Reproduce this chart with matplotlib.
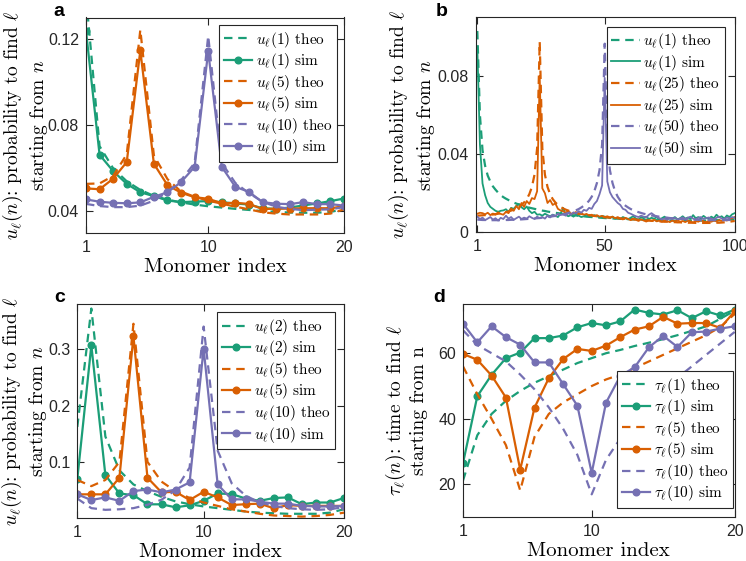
import matplotlib
matplotlib.use("Agg")
import matplotlib.pyplot as plt
import numpy as np

plt.rcParams['font.family'] = ['Liberation Sans', 'DejaVu Sans']
plt.rcParams['mathtext.fontset'] = 'cm'

GREEN = '#1b9e77'
ORANGE = '#d95f02'
PURPLE = '#7570b3'

# ---------------- panel a ----------------
n20 = list(range(1, 21))
a_u1_theo = [0.140, 0.0703, 0.0600, 0.0540, 0.0500, 0.0472, 0.0455, 0.0442, 0.0432, 0.0424,
             0.0418, 0.0412, 0.0407, 0.0402, 0.0398, 0.0395, 0.0394, 0.0394, 0.0398, 0.0410]
a_u1_sim = [0.1238, 0.0663, 0.0587, 0.0528, 0.0489, 0.0471, 0.0451, 0.0443, 0.0446, 0.0448,
            0.0443, 0.0437, 0.0432, 0.0415, 0.0412, 0.0418, 0.0428, 0.0437, 0.0448, 0.0460]
a_u5_theo = [0.0528, 0.0530, 0.0565, 0.0665, 0.1243, 0.0660, 0.0550, 0.0492, 0.0468, 0.0450,
             0.0436, 0.0422, 0.0410, 0.0396, 0.0390, 0.0386, 0.0386, 0.0386, 0.0390, 0.0410]
a_u5_sim = [0.0507, 0.0503, 0.0552, 0.0629, 0.1147, 0.0621, 0.0522, 0.0487, 0.0466, 0.0459,
            0.0438, 0.0440, 0.0435, 0.0411, 0.0413, 0.0413, 0.0415, 0.0415, 0.0415, 0.0424]
a_u10_theo = [0.0435, 0.0425, 0.0420, 0.0420, 0.0427, 0.0450, 0.0490, 0.0545, 0.0625, 0.1215,
              0.0625, 0.0532, 0.0485, 0.0445, 0.0422, 0.0412, 0.0406, 0.0408, 0.0410, 0.0420]
a_u10_sim = [0.0456, 0.0445, 0.0440, 0.0438, 0.0442, 0.0468, 0.0489, 0.0536, 0.0607, 0.1143,
             0.0607, 0.0514, 0.0491, 0.0443, 0.0436, 0.0434, 0.0443, 0.0434, 0.0434, 0.0427]

# ---------------- panel b ----------------
n100 = list(range(1, 101))
b_u1_theo = [0.103, 0.060, 0.042, 0.034, 0.029, 0.026, 0.0235, 0.0218, 0.0203, 0.0190,
             0.0180, 0.0172, 0.0165, 0.0158, 0.0152, 0.0147, 0.0142, 0.0138, 0.0134, 0.0130,
             0.0126, 0.0123, 0.0120, 0.0117, 0.0114, 0.0111, 0.0109, 0.0106, 0.0104, 0.0102,
             0.0100, 0.0098, 0.0096, 0.0094, 0.0092, 0.0090, 0.0089, 0.0087, 0.0086, 0.0084,
             0.0083, 0.0082, 0.0080, 0.0079, 0.0078, 0.0077, 0.0076, 0.0075, 0.0074, 0.0073,
             0.0072, 0.0072, 0.0071, 0.0070, 0.0070, 0.0069, 0.0069, 0.0068, 0.0068, 0.0067,
             0.0066, 0.0066, 0.0065, 0.0065, 0.0064, 0.0064, 0.0063, 0.0063, 0.0062, 0.0062,
             0.0062, 0.0061, 0.0061, 0.0061, 0.0061, 0.0060, 0.0060, 0.0060, 0.0060, 0.0060,
             0.0060, 0.0060, 0.0060, 0.0060, 0.0060, 0.0060, 0.0060, 0.0060, 0.0060, 0.0060,
             0.0061, 0.0061, 0.0062, 0.0062, 0.0063, 0.0063, 0.0064, 0.0065, 0.0065, 0.0066]
b_u1_sim = [0.095, 0.045, 0.025, 0.019, 0.015, 0.013, 0.012, 0.011, 0.0105, 0.011,
            0.0112, 0.0118, 0.0105, 0.0125, 0.0120, 0.0135, 0.0145, 0.0128, 0.0118, 0.0132,
            0.0110, 0.0098, 0.0105, 0.0090, 0.0092, 0.0085, 0.0095, 0.0088, 0.0082, 0.0090,
            0.0085, 0.0078, 0.0095, 0.0125, 0.0090, 0.0082, 0.0088, 0.0080, 0.0092, 0.0085,
            0.0078, 0.0082, 0.0090, 0.0085, 0.0080, 0.0088, 0.0082, 0.0078, 0.0084, 0.0080,
            0.0076, 0.0072, 0.0080, 0.0070, 0.0074, 0.0068, 0.0078, 0.0072, 0.0066, 0.0075,
            0.0082, 0.0070, 0.0065, 0.0078, 0.0072, 0.0080, 0.0068, 0.0074, 0.0070, 0.0077,
            0.0066, 0.0072, 0.0080, 0.0068, 0.0074, 0.0070, 0.0078, 0.0066, 0.0072, 0.0082,
            0.0070, 0.0076, 0.0068, 0.0088, 0.0072, 0.0078, 0.0070, 0.0084, 0.0074, 0.0068,
            0.0080, 0.0072, 0.0090, 0.0076, 0.0082, 0.0070, 0.0086, 0.0078, 0.0092, 0.0098]
b_u25_theo = [0.0085, 0.0086, 0.0087, 0.0088, 0.0089, 0.0090, 0.0091, 0.0093, 0.0095, 0.0097,
              0.0100, 0.0103, 0.0107, 0.0111, 0.0116, 0.0122, 0.0130, 0.0140, 0.0153, 0.0170,
              0.0195, 0.0232, 0.0295, 0.0430, 0.0975, 0.0430, 0.0295, 0.0232, 0.0195, 0.0170,
              0.0153, 0.0140, 0.0130, 0.0122, 0.0116, 0.0111, 0.0107, 0.0103, 0.0100, 0.0097,
              0.0094, 0.0092, 0.0090, 0.0088, 0.0086, 0.0084, 0.0082, 0.0080, 0.0078, 0.0077,
              0.0076, 0.0075, 0.0074, 0.0073, 0.0072, 0.0071, 0.0070, 0.0069, 0.0068, 0.0067,
              0.0066, 0.0065, 0.0064, 0.0063, 0.0062, 0.0061, 0.0060, 0.0059, 0.0058, 0.0057,
              0.0056, 0.0055, 0.0054, 0.0054, 0.0053, 0.0052, 0.0052, 0.0051, 0.0051, 0.0050,
              0.0050, 0.0049, 0.0049, 0.0049, 0.0048, 0.0048, 0.0048, 0.0048, 0.0048, 0.0048,
              0.0048, 0.0048, 0.0049, 0.0049, 0.0050, 0.0051, 0.0052, 0.0054, 0.0056, 0.0058]
b_u25_sim = [0.0095, 0.0100, 0.0098, 0.0092, 0.0100, 0.0088, 0.0096, 0.0090, 0.0102, 0.0094,
             0.0090, 0.0105, 0.0098, 0.0122, 0.0110, 0.0135, 0.0118, 0.0150, 0.0130, 0.0160,
             0.0145, 0.0175, 0.0170, 0.0210, 0.0800, 0.0225, 0.0200, 0.0150, 0.0165, 0.0140,
             0.0148, 0.0120, 0.0112, 0.0108, 0.0100, 0.0110, 0.0095, 0.0098, 0.0102, 0.0092,
             0.0098, 0.0090, 0.0094, 0.0086, 0.0090, 0.0082, 0.0088, 0.0080, 0.0084, 0.0078,
             0.0082, 0.0076, 0.0080, 0.0072, 0.0078, 0.0070, 0.0066, 0.0074, 0.0068, 0.0062,
             0.0070, 0.0064, 0.0058, 0.0066, 0.0060, 0.0055, 0.0062, 0.0058, 0.0064, 0.0056,
             0.0060, 0.0054, 0.0062, 0.0058, 0.0052, 0.0060, 0.0056, 0.0062, 0.0054, 0.0058,
             0.0052, 0.0060, 0.0056, 0.0050, 0.0058, 0.0054, 0.0062, 0.0056, 0.0052, 0.0058,
             0.0054, 0.0060, 0.0056, 0.0062, 0.0058, 0.0064, 0.0060, 0.0068, 0.0072, 0.0078]
b_u50_theo = [0.0065, 0.0064, 0.0063, 0.0063, 0.0062, 0.0062, 0.0062, 0.0062, 0.0062, 0.0062,
              0.0062, 0.0063, 0.0063, 0.0064, 0.0064, 0.0065, 0.0066, 0.0066, 0.0067, 0.0068,
              0.0069, 0.0070, 0.0071, 0.0072, 0.0073, 0.0075, 0.0076, 0.0078, 0.0080, 0.0082,
              0.0084, 0.0086, 0.0089, 0.0092, 0.0095, 0.0099, 0.0103, 0.0108, 0.0113, 0.0119,
              0.0127, 0.0136, 0.0147, 0.0162, 0.0182, 0.0210, 0.0252, 0.0318, 0.0450, 0.0965,
              0.0450, 0.0318, 0.0252, 0.0210, 0.0182, 0.0162, 0.0147, 0.0136, 0.0127, 0.0119,
              0.0113, 0.0108, 0.0103, 0.0099, 0.0095, 0.0092, 0.0089, 0.0086, 0.0084, 0.0082,
              0.0080, 0.0078, 0.0076, 0.0075, 0.0073, 0.0072, 0.0071, 0.0070, 0.0069, 0.0068,
              0.0067, 0.0066, 0.0066, 0.0065, 0.0064, 0.0064, 0.0063, 0.0063, 0.0062, 0.0062,
              0.0062, 0.0062, 0.0062, 0.0062, 0.0062, 0.0062, 0.0063, 0.0063, 0.0064, 0.0065]
b_u50_sim = [0.0080, 0.0068, 0.0075, 0.0062, 0.0070, 0.0078, 0.0065, 0.0072, 0.0060, 0.0074,
             0.0068, 0.0085, 0.0070, 0.0078, 0.0064, 0.0072, 0.0080, 0.0068, 0.0075, 0.0070,
             0.0082, 0.0074, 0.0068, 0.0080, 0.0072, 0.0078, 0.0070, 0.0085, 0.0076, 0.0090,
             0.0082, 0.0095, 0.0088, 0.0092, 0.0085, 0.0098, 0.0090, 0.0102, 0.0096, 0.0108,
             0.0100, 0.0115, 0.0110, 0.0125, 0.0120, 0.0145, 0.0160, 0.0195, 0.0240, 0.0790,
             0.0260, 0.0205, 0.0180, 0.0165, 0.0150, 0.0140, 0.0120, 0.0115, 0.0100, 0.0095,
             0.0088, 0.0082, 0.0078, 0.0085, 0.0080, 0.0076, 0.0090, 0.0098, 0.0088, 0.0080,
             0.0072, 0.0066, 0.0070, 0.0064, 0.0072, 0.0068, 0.0074, 0.0066, 0.0070, 0.0076,
             0.0068, 0.0074, 0.0080, 0.0070, 0.0066, 0.0074, 0.0078, 0.0068, 0.0072, 0.0076,
             0.0070, 0.0066, 0.0074, 0.0080, 0.0070, 0.0068, 0.0076, 0.0072, 0.0078, 0.0074]

# ---------------- panel c ----------------
c_u2_theo = [0.162, 0.372, 0.145, 0.085, 0.060, 0.048, 0.038, 0.030, 0.025, 0.021,
             0.018, 0.015, 0.012, 0.010, 0.009, 0.008, 0.008, 0.008, 0.010, 0.016]
c_u2_sim = [0.0695, 0.3067, 0.0766, 0.044, 0.041, 0.0248, 0.0248, 0.0195, 0.023, 0.031,
            0.044, 0.043, 0.035, 0.031, 0.036, 0.037, 0.025, 0.028, 0.028, 0.036]
c_u5_theo = [0.068, 0.057, 0.068, 0.100, 0.345, 0.100, 0.065, 0.048, 0.036, 0.028,
             0.022, 0.016, 0.012, 0.008, 0.005, 0.004, 0.003, 0.004, 0.006, 0.010]
c_u5_sim = [0.0425, 0.0425, 0.0425, 0.072, 0.3226, 0.072, 0.046, 0.047, 0.0324, 0.047,
            0.037, 0.0235, 0.025, 0.026, 0.0177, 0.0235, 0.022, 0.022, 0.022, 0.022]
c_u10_theo = [0.035, 0.018, 0.015, 0.016, 0.018, 0.024, 0.033, 0.050, 0.090, 0.340,
              0.120, 0.062, 0.040, 0.028, 0.022, 0.018, 0.016, 0.015, 0.016, 0.020]
c_u10_sim = [0.0425, 0.0324, 0.037, 0.031, 0.0483, 0.051, 0.046, 0.051, 0.0637, 0.301,
             0.060, 0.0336, 0.0336, 0.0295, 0.026, 0.026, 0.022, 0.021, 0.021, 0.022]

# ---------------- panel d ----------------
d_t1_theo = [21.2, 35.0, 41.5, 45.5, 48.5, 51.0, 53.0, 55.0, 57.0, 58.5,
             60.0, 61.0, 62.2, 63.2, 64.3, 65.5, 66.8, 68.2, 70.5, 73.0]
d_t1_sim = [26.5, 46.9, 53.4, 58.5, 60.2, 64.6, 64.6, 65.4, 67.9, 69.2,
            68.5, 69.7, 73.3, 72.3, 71.8, 73.1, 70.7, 72.8, 71.5, 73.3]
d_t5_theo = [56.0, 47.5, 40.0, 32.0, 18.2, 34.5, 41.5, 45.0, 47.5, 50.0,
             52.0, 53.5, 55.5, 57.5, 59.5, 61.5, 63.5, 65.5, 68.0, 72.0]
d_t5_sim = [59.8, 58.0, 53.2, 46.5, 24.5, 43.4, 52.4, 58.2, 61.3, 60.7,
            62.3, 64.9, 67.2, 68.2, 71.1, 69.0, 69.2, 69.2, 67.7, 72.8]
d_t10_theo = [67.0, 62.5, 60.0, 57.5, 53.5, 49.0, 43.5, 37.0, 29.0, 17.0,
              27.5, 34.0, 39.5, 44.0, 48.5, 52.5, 56.0, 59.5, 63.0, 66.5]
d_t10_sim = [69.0, 63.3, 68.2, 64.9, 62.6, 57.2, 57.2, 50.6, 44.0, 23.5,
             44.9, 53.1, 55.7, 61.8, 65.3, 61.9, 66.4, 66.6, 67.5, 68.2]

W, H = 746, 561
fig = plt.figure(figsize=(W / 100, H / 100), dpi=100)
SERIF = ['cmr10', 'DejaVu Serif']


def make_ax(l, t, r, b):
    return fig.add_axes([l / W, 1 - b / H, (r - l) / W, (b - t) / H])


axA = make_ax(86, 17.5, 344, 233)
axB = make_ax(475.5, 17.3, 734.7, 232.3)
axC = make_ax(77.3, 304, 344, 518.3)
axD = make_ax(463, 304, 734.7, 517.3)

DASH = (0, (3.8, 2.6))
LW = 1.6
MS = 4.8


def lab(sym, k, kind):
    return r'$%s_\ell(%s)$ %s' % (sym, k, kind)


def style(ax, xlim, xticks, ylim, yticks, yticklabels, ylabel, label_cx, letter, letter_xy):
    ax.set_xlim(*xlim)
    ax.set_ylim(*ylim)
    ax.set_xticks(xticks)
    ax.set_xticklabels([str(x) for x in xticks])
    ax.set_yticks(yticks)
    ax.set_yticklabels(yticklabels)
    ax.tick_params(direction='in', length=5, width=0.8, labelsize=11.5,
                   top=True, right=True, colors='#262626', pad=5)
    for s in ax.spines.values():
        s.set_color('#262626')
        s.set_linewidth(0.8)
    ax.set_xlabel('Monomer index', fontsize=15, labelpad=2, family=SERIF)
    ax.set_ylabel(ylabel, fontsize=14, linespacing=1.2, va='center', ha='center',
                  family=SERIF)
    bb = ax.get_position()
    left_px = bb.x0 * W
    width_px = bb.width * W
    ax.yaxis.set_label_coords((label_cx - left_px) / width_px, 0.5)
    fig.text(letter_xy[0] / W, 1 - letter_xy[1] / H, letter, fontsize=14,
             fontweight='bold', ha='center', va='center')


ylab_u = '$u_\\ell(n)$: probability to find $\\ell$\nstarting from $n$'
ylab_t = '$\\tau_\\ell(n)$: time to find $\\ell$\nstarting from n'

# panel a
axA.plot(n20, a_u1_theo, ls=DASH, color=GREEN, lw=LW, label=lab('u', 1, 'theo'))
axA.plot(n20, a_u1_sim, '-o', color=GREEN, lw=LW, ms=MS, label=lab('u', 1, 'sim'))
axA.plot(n20, a_u5_theo, ls=DASH, color=ORANGE, lw=LW, label=lab('u', 5, 'theo'))
axA.plot(n20, a_u5_sim, '-o', color=ORANGE, lw=LW, ms=MS, label=lab('u', 5, 'sim'))
axA.plot(n20, a_u10_theo, ls=DASH, color=PURPLE, lw=LW, label=lab('u', 10, 'theo'))
axA.plot(n20, a_u10_sim, '-o', color=PURPLE, lw=LW, ms=MS, label=lab('u', 10, 'sim'))
style(axA, (1, 20), [1, 10, 20], (0.03, 0.13), [0.04, 0.08, 0.12], ['0.04', '0.08', '0.12'],
      ylab_u, 25.5, 'a', (59, 12))

# panel b
axB.plot(n100, b_u1_theo, ls=DASH, color=GREEN, lw=LW, label=lab('u', 1, 'theo'))
axB.plot(n100, b_u1_sim, '-', color=GREEN, lw=1.3, label=lab('u', 1, 'sim'))
axB.plot(n100, b_u25_theo, ls=DASH, color=ORANGE, lw=LW, label=lab('u', 25, 'theo'))
axB.plot(n100, b_u25_sim, '-', color=ORANGE, lw=1.3, label=lab('u', 25, 'sim'))
axB.plot(n100, b_u50_theo, ls=DASH, color=PURPLE, lw=LW, label=lab('u', 50, 'theo'))
axB.plot(n100, b_u50_sim, '-', color=PURPLE, lw=1.3, label=lab('u', 50, 'sim'))
style(axB, (0.3, 100), [1, 50, 100], (0, 0.11), [0, 0.04, 0.08], ['0', '0.04', '0.08'],
      ylab_u, 412, 'b', (442, 12))

# panel c
axC.plot(n20, c_u2_theo, ls=DASH, color=GREEN, lw=LW, label=lab('u', 2, 'theo'))
axC.plot(n20, c_u2_sim, '-o', color=GREEN, lw=LW, ms=MS, label=lab('u', 2, 'sim'))
axC.plot(n20, c_u5_theo, ls=DASH, color=ORANGE, lw=LW, label=lab('u', 5, 'theo'))
axC.plot(n20, c_u5_sim, '-o', color=ORANGE, lw=LW, ms=MS, label=lab('u', 5, 'sim'))
axC.plot(n20, c_u10_theo, ls=DASH, color=PURPLE, lw=LW, label=lab('u', 10, 'theo'))
axC.plot(n20, c_u10_sim, '-o', color=PURPLE, lw=LW, ms=MS, label=lab('u', 10, 'sim'))
style(axC, (1, 20), [1, 10, 20], (0, 0.38), [0.1, 0.2, 0.3], ['0.1', '0.2', '0.3'],
      ylab_u, 24.5, 'c', (60, 297))

# panel d
axD.plot(n20, d_t1_theo, ls=DASH, color=GREEN, lw=LW, label=lab(r'\tau', 1, 'theo'))
axD.plot(n20, d_t1_sim, '-o', color=GREEN, lw=LW, ms=MS, label=lab(r'\tau', 1, 'sim'))
axD.plot(n20, d_t5_theo, ls=DASH, color=ORANGE, lw=LW, label=lab(r'\tau', 5, 'theo'))
axD.plot(n20, d_t5_sim, '-o', color=ORANGE, lw=LW, ms=MS, label=lab(r'\tau', 5, 'sim'))
axD.plot(n20, d_t10_theo, ls=DASH, color=PURPLE, lw=LW, label=lab(r'\tau', 10, 'theo'))
axD.plot(n20, d_t10_sim, '-o', color=PURPLE, lw=LW, ms=MS, label=lab(r'\tau', 10, 'sim'))
style(axD, (1, 20), [1, 10, 20], (10, 75), [20, 40, 60], ['20', '40', '60'],
      ylab_t, 406, 'd', (439, 297))

# legends placed in figure coordinates
for ax, xr, yt, loc in [(axA, 337, 25, 'upper right'), (axB, 724.7, 26.7, 'upper right'),
                        (axC, 335, 312.3, 'upper right'), (axD, 733, 508, 'lower right')]:
    lg = ax.legend(loc=loc, bbox_to_anchor=(xr / W, 1 - yt / H), bbox_transform=fig.transFigure,
                   prop={'family': SERIF, 'size': 11}, frameon=True, fancybox=False,
                   framealpha=1, edgecolor='#262626', handlelength=1.85, handletextpad=0.25,
                   labelspacing=0.1, borderpad=0.3, borderaxespad=0)
    lg.get_frame().set_linewidth(0.8)

fig.savefig('out.png', dpi=100)
